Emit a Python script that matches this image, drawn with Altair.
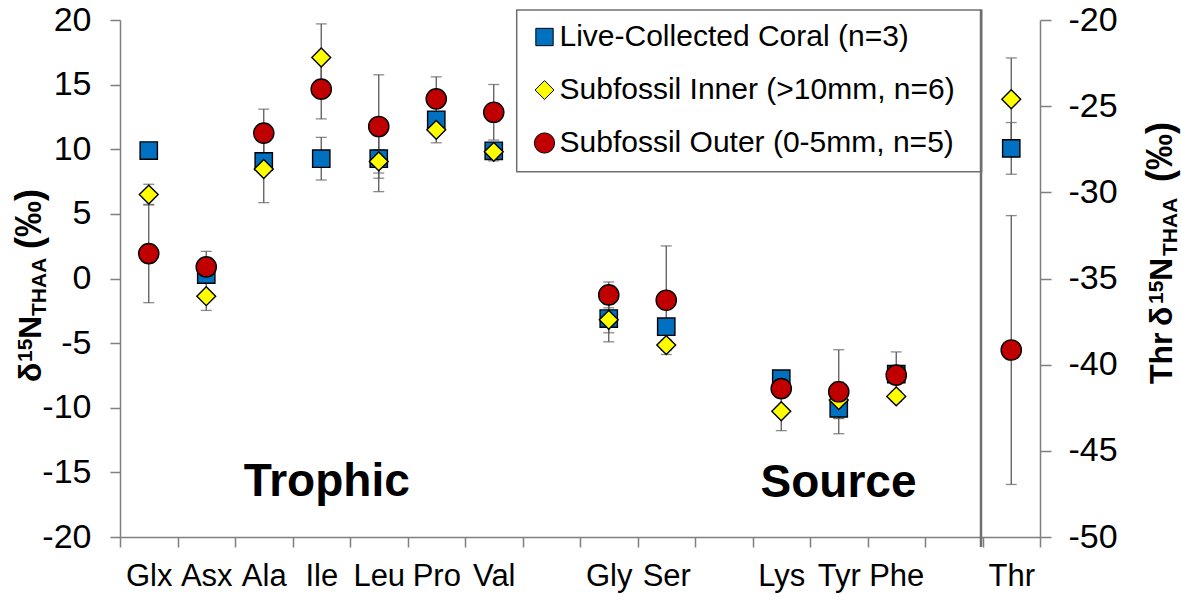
import altair as alt
import pandas as pd

# ---------------- data ----------------
amino = ["Glx", "Asx", "Ala", "Ile", "Leu", "Pro", "Val", "Gly", "Ser", "Lys", "Tyr", "Phe"]
x_domain = ["Glx", "Asx", "Ala", "Ile", "Leu", "Pro", "Val", " ", "Gly", "Ser", "  ",
            "Lys", "Tyr", "Phe", "   ", "Thr"]
series = ["Live-Collected Coral (n=3)", "Subfossil Inner (>10mm, n=6)", "Subfossil Outer (0-5mm, n=5)"]

live_mean = [9.9, 0.3, 9.06, 9.27, 9.27, 12.28, 9.88, -3.1, -3.73, -7.75, -10.04, -7.4]
live_err = [0.4, 0.4, 0.5, 1.65, 2.55, 0.5, 0.5, 1.1, 0.4, 0.3, 0.8, 0.3]
inner_mean = [6.49, -1.37, 8.47, 17.1, 9.06, 11.5, 9.8, -3.2, -5.15, -10.27, -9.4, -9.12]
inner_err = [0.8, 1.1, 2.6, 2.6, 0.9, 1.0, 0.7, 1.7, 0.4, 1.5, 1.4, 0.4]
outer_mean = [1.93, 0.9, 11.25, 14.65, 11.76, 13.9, 12.86, -1.27, -1.68, -8.52, -8.76, -7.48]
outer_err = [3.8, 1.2, 1.85, 2.3, 4.0, 1.7, 2.15, 1.0, 4.2, 0.4, 3.25, 1.8]

thr_mean = [-27.45, -24.6, -39.15]
thr_err = [1.5, 2.4, 7.8]

colors = ["#0070C0", "#FFFF00", "#C00000"]
shapes = ["square", "diamond", "circle"]
sizes = [300, 410, 250]

rows = []
for s, means, errs in zip(series, [live_mean, inner_mean, outer_mean], [live_err, inner_err, outer_err]):
    for a, m, e in zip(amino, means, errs):
        rows.append({"aa": a, "series": s, "mean": m, "lo": m - e, "hi": m + e})
df_main = pd.DataFrame(rows)
df_thr = pd.DataFrame({
    "aa": ["Thr"] * 3,
    "series": series,
    "mean": thr_mean,
    "lo": [m - e for m, e in zip(thr_mean, thr_err)],
    "hi": [m + e for m, e in zip(thr_mean, thr_err)],
})

FONT = "Liberation Sans"
GRAY = "#7f7f7f"
BAR = "#5a5a5a"

x_enc = alt.X(
    "aa:N",
    sort=x_domain,
    scale=alt.Scale(type="band", domain=x_domain, paddingInner=0, paddingOuter=0),
    axis=alt.Axis(title=None, tickBand="extent", labelAngle=0, labelOverlap=False,
                  labelFontSize=31, labelPadding=14, tickSize=10, labelFont=FONT,
                  labelColor="black"),
)

leg = alt.Legend(title=None, orient="none", legendX=409.5, legendY=2, labelFontSize=30,
                 labelFont=FONT, labelColor="black", symbolSize=290, rowPadding=23,
                 labelOffset=0, symbolStrokeColor="black", symbolStrokeWidth=1,
                 padding=0, labelLimit=600)


def side(df, domain, ticks, orient, pad, tsize):
    y_axis = alt.Axis(title=None, values=ticks, orient=orient, labelFontSize=34,
                      labelPadding=pad, tickSize=tsize, labelFont=FONT, labelColor="black",
                      grid=False, labelExpr="'' + datum.value")
    yscale = alt.Scale(domain=domain, nice=False, zero=False)
    base = alt.Chart(df)
    bars = base.mark_rule(color=BAR, strokeWidth=1.3).encode(
        x=x_enc, y=alt.Y("lo:Q", scale=yscale, axis=y_axis), y2="hi:Q")
    cap_lo = base.mark_tick(color=BAR, size=11, thickness=1.3).encode(
        x=x_enc, y=alt.Y("lo:Q", scale=yscale, axis=y_axis))
    cap_hi = base.mark_tick(color=BAR, size=11, thickness=1.3).encode(
        x=x_enc, y=alt.Y("hi:Q", scale=yscale, axis=y_axis))
    pts = base.mark_point(filled=True, opacity=1, stroke="black", strokeWidth=1.4).encode(
        x=x_enc,
        y=alt.Y("mean:Q", scale=yscale, axis=y_axis),
        color=alt.Color("series:N", scale=alt.Scale(domain=series, range=colors), legend=leg),
        shape=alt.Shape("series:N", scale=alt.Scale(domain=series, range=shapes), legend=leg),
        size=alt.Size("series:N", scale=alt.Scale(domain=series, range=sizes), legend=None),
    )
    return alt.layer(bars, cap_lo, cap_hi, pts)


left = side(df_main, [-20, 20], list(range(-20, 21, 5)), "left", 19, 10)
right = side(df_thr, [-50, -20], list(range(-50, -19, 5)), "right", 17, 11)

one = pd.DataFrame({"k": [0]})


def label(text, x, y, size, angle=0, align="left", bold=True):
    return alt.Chart(one).mark_text(
        text=text, fontSize=size, font=FONT, fontWeight="bold" if bold else "normal",
        angle=angle, align=align, baseline="alphabetic", color="black",
    ).encode(x=alt.value(x), y=alt.value(y))


# legend box and Thr separator (pixel layout relative to the plot area)
box = alt.Chart(one).mark_rect(fill=None, stroke="#6f6f6f", strokeWidth=1.5).encode(
    x=alt.value(396.7), x2=alt.value(861.6), y=alt.value(-10), y2=alt.value(151.7))
sep = alt.Chart(one).mark_rule(color="#6f6f6f", strokeWidth=2.5).encode(
    x=alt.value(861), y=alt.value(-10), y2=alt.value(527))

annots = [
    label("Trophic", 206.7, 476, 46, align="center"),
    label("Source", 718.5, 477, 46, align="center"),
    # left axis title: δ15N_THAA (‰)
    label("δ", -79, 362, 32, angle=270),
    label("15", -88, 342, 21, angle=270),
    label("N", -79, 319, 32, angle=270),
    label("THAA", -74, 296, 21, angle=270),
    label("(‰)", -79, 229, 36, angle=270),
    # right axis title: Thr δ15N_THAA (‰)
    label("Thr", 1052, 364, 32, angle=270),
    label("δ", 1052, 306, 32, angle=270),
    label("15", 1043, 284, 21, angle=270),
    label("N", 1052, 261, 32, angle=270),
    label("THAA", 1057, 236, 21, angle=270),
    label("(‰)", 1052, 162, 36, angle=270),
]

chart = alt.layer(left, right, box, sep, *annots).resolve_scale(y="independent").properties(
    width=920, height=517,
    autosize=alt.AutoSizeParams(type="none"),
    padding={"left": 120, "top": 20, "right": 141, "bottom": 64},
    background="white",
).configure_view(stroke=None).configure_axis(
    domainColor=GRAY, tickColor=GRAY, domainWidth=1.5, tickWidth=1.5, grid=False,
)

chart.save("out.html", embed_options={"renderer": "svg", "actions": False})
